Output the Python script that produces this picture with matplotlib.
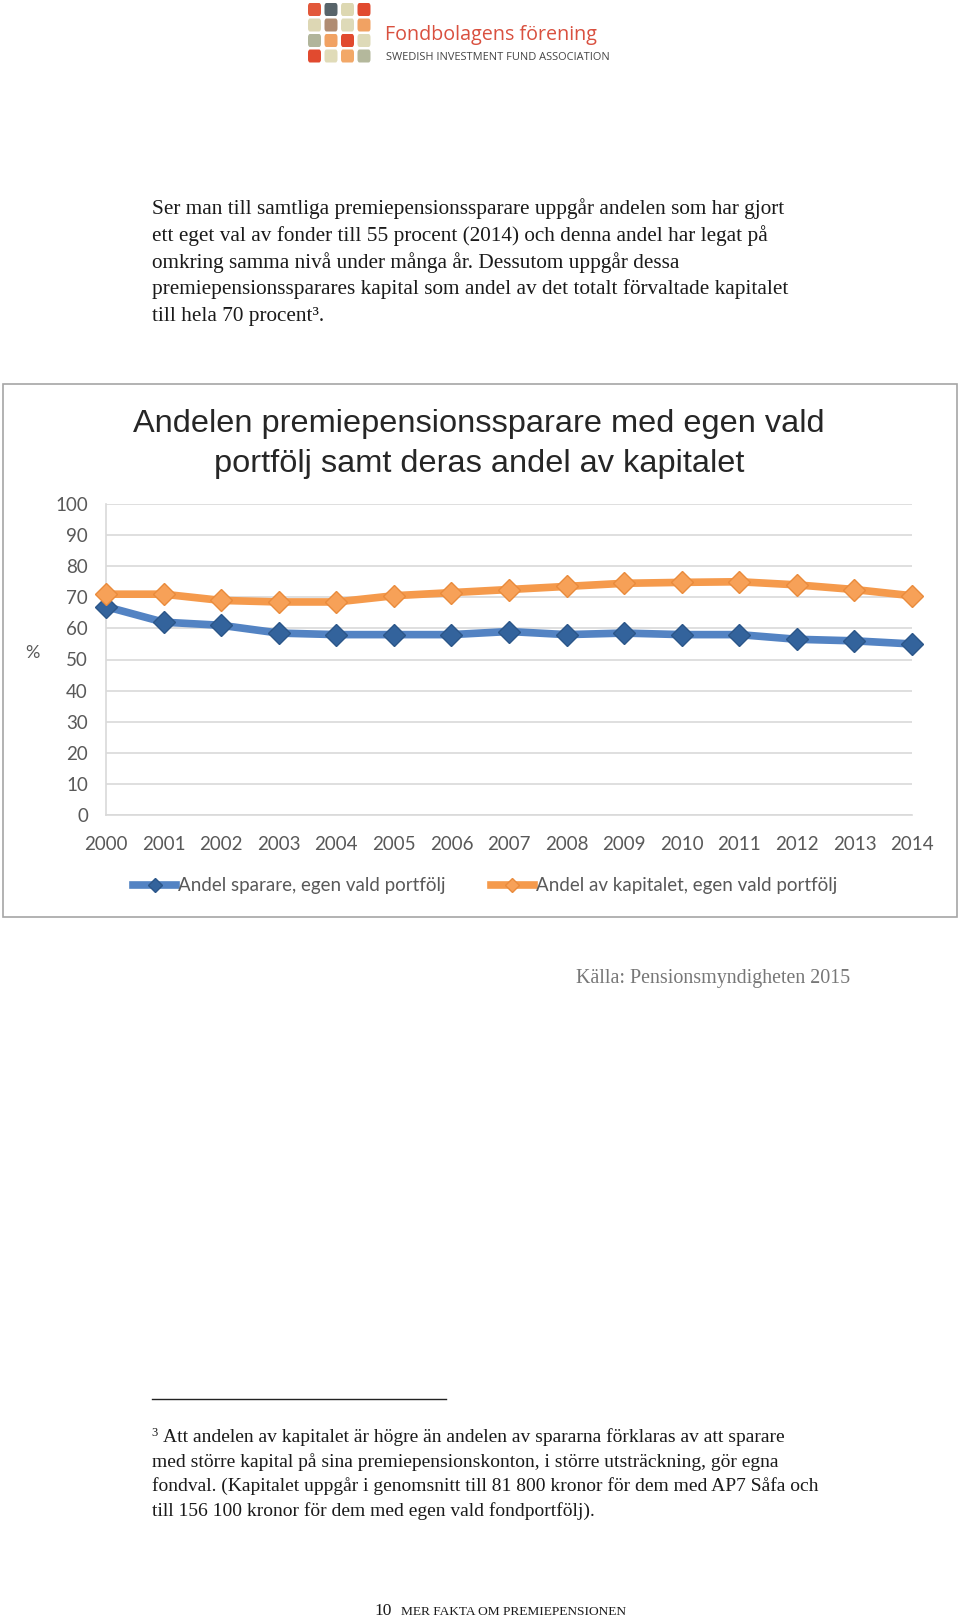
import matplotlib.pyplot as plt
from matplotlib.patches import Rectangle, FancyBboxPatch
from matplotlib.lines import Line2D

# data
years = list(range(2000, 2015))
andel_sparare = [67, 62, 61, 58.5, 58, 58, 58, 59, 58, 58.5, 58, 58, 56.5, 56, 55]
andel_kapital = [71, 71, 69, 68.5, 68.5, 70.5, 71.5, 72.5, 73.5, 74.5, 74.8, 75, 74, 72.5, 70.5]
yticks = list(range(0, 101, 10))
labels = ["Andel sparare, egen vald portfölj", "Andel av kapitalet, egen vald portfölj"]

W, H = 960, 1620

def fx(px):
    return px / W

def fy(py):
    return 1 - py / H

fig = plt.figure(figsize=(9.6, 16.2), dpi=100)
fig.patch.set_facecolor("white")

# --- logo ---
logo_colors = [
    ["#e2583a", "#58646a", "#ddd8b2", "#e14a2f"],
    ["#ddd7b4", "#b08c72", "#dedab8", "#f1a263"],
    ["#b1b59b", "#f1a263", "#e14a2f", "#dedab8"],
    ["#e14a2f", "#e0dbb8", "#f2a868", "#b4b89c"],
]
for r, row in enumerate(logo_colors):
    for c, col in enumerate(row):
        x0 = 308 + c * 16.5
        y0 = 3 + r * 15.5
        fig.add_artist(FancyBboxPatch((fx(x0), fy(y0 + 13)), 13 / W, 13 / H,
                                      boxstyle="round,pad=0,rounding_size=0.002",
                                      transform=fig.transFigure, facecolor=col,
                                      edgecolor="none"))
fig.text(fx(385), fy(35), "Fondbolagens förening", fontsize=14.2, color="#d9503f",
         family="Open Sans", va="center", ha="left")
fig.text(fx(386), fy(58), "SWEDISH INVESTMENT FUND ASSOCIATION", fontsize=7.9,
         color="#444444", family="Open Sans", va="center", ha="left")

# --- body text ---
para = [
    "Ser man till samtliga premiepensionssparare uppgår andelen som har gjort",
    "ett eget val av fonder till 55 procent (2014) och denna andel har legat på",
    "omkring samma nivå under många år. Dessutom uppgår dessa",
    "premiepensionssparares kapital som andel av det totalt förvaltade kapitalet",
    "till hela 70 procent³.",
]
for i, line in enumerate(para):
    fig.text(fx(152), fy(209 + i * 26.8), line, fontsize=15.3, family="Liberation Serif",
             color="#1a1a1a", va="center", ha="left")

# --- chart frame ---
fig.add_artist(Rectangle((fx(3), fy(917)), 954 / W, 533 / H, transform=fig.transFigure,
                         facecolor="none", edgecolor="#a6a6a6", lw=1.2))
fig.text(fx(479), fy(424), "Andelen premiepensionssparare med egen vald",
         fontsize=23.4, family="Liberation Sans", color="#262626", ha="center", va="center")
fig.text(fx(479), fy(464), "portfölj samt deras andel av kapitalet",
         fontsize=23.4, family="Liberation Sans", color="#262626", ha="center", va="center")

ax = fig.add_axes([fx(106), fy(815), (912 - 106) / W, (815 - 504) / H])
ax.plot(years, andel_sparare, color="#5383c3", lw=5.5, marker="D", markersize=11.5,
        markerfacecolor="#33639c", markeredgecolor="#2b5689", markeredgewidth=1,
        clip_on=False, zorder=3)
ax.plot(years, andel_kapital, color="#f59a4c", lw=5.5, marker="D", markersize=11.5,
        markerfacecolor="#f7a158", markeredgecolor="#e98b3c", markeredgewidth=1,
        clip_on=False, zorder=3)

ax.set_xlim(2000, 2014)
ax.set_ylim(0, 100)
ax.set_yticks(yticks)
ax.set_xticks(years)
ax.grid(axis="y", color="#d9d9d9", lw=1.2)
ax.set_axisbelow(True)
for s in ["top", "right"]:
    ax.spines[s].set_visible(False)
ax.spines["left"].set_color("#d9d9d9")
ax.spines["bottom"].set_color("#d9d9d9")
ax.spines["left"].set_linewidth(1.2)
ax.spines["bottom"].set_linewidth(1.2)
ax.tick_params(length=0, labelsize=13.5, labelcolor="#595959")
ax.tick_params(axis="x", pad=15)
ax.tick_params(axis="y", pad=13)
for lab in ax.get_xticklabels() + ax.get_yticklabels():
    lab.set_family("Lato")
fig.text(fx(32), fy(653), "%", fontsize=13, family="Lato", color="#595959",
         ha="center", va="center")

handles = [
    Line2D([], [], color="#5383c3", lw=5.5, marker="D", markersize=7,
           markerfacecolor="#33639c", markeredgecolor="#2b5689"),
    Line2D([], [], color="#f59a4c", lw=5.5, marker="D", markersize=7,
           markerfacecolor="#f7a158", markeredgecolor="#e98b3c"),
]
leg = ax.legend(handles, labels, loc="center", bbox_to_anchor=(fx(485), fy(886)),
                bbox_transform=fig.transFigure, ncol=2, frameon=False,
                handlelength=2.3, handletextpad=0.1, columnspacing=2.4,
                prop={"family": "Lato", "size": 13.5})
for t in leg.get_texts():
    t.set_color("#595959")

# --- source ---
fig.text(fx(850), fy(979), "Källa: Pensionsmyndigheten 2015", fontsize=14.4,
         family="Liberation Serif", color="#777777", ha="right", va="center")

# --- footnote ---
fig.add_artist(Line2D([fx(152), fx(446)], [fy(1399), fy(1399)], transform=fig.transFigure,
                      color="#222222", lw=1))
fig.text(fx(151), fy(1433), "3", fontsize=9, family="Liberation Serif",
         color="#1a1a1a", ha="left", va="center")
foot = [
    "Att andelen av kapitalet är högre än andelen av spararna förklaras av att sparare",
    "med större kapital på sina premiepensionskonton, i större utsträckning, gör egna",
    "fondval. (Kapitalet uppgår i genomsnitt till 81 800 kronor för dem med AP7 Såfa och",
    "till 156 100 kronor för dem med egen vald fondportfölj).",
]
for i, line in enumerate(foot):
    x0 = 163 if i == 0 else 152
    fig.text(fx(x0), fy(1437 + i * 24.6), line, fontsize=14, family="Liberation Serif",
             color="#1a1a1a", ha="left", va="center")

# --- page footer ---
fig.text(fx(374), fy(1611), "10", fontsize=12.5, family="Liberation Serif",
         color="#1a1a1a", ha="left", va="center")
fig.text(fx(401), fy(1612), "MER FAKTA OM PREMIEPENSIONEN", fontsize=9.6,
         family="Liberation Serif", color="#1a1a1a", ha="left", va="center")

fig.savefig("out.png", dpi=100)
